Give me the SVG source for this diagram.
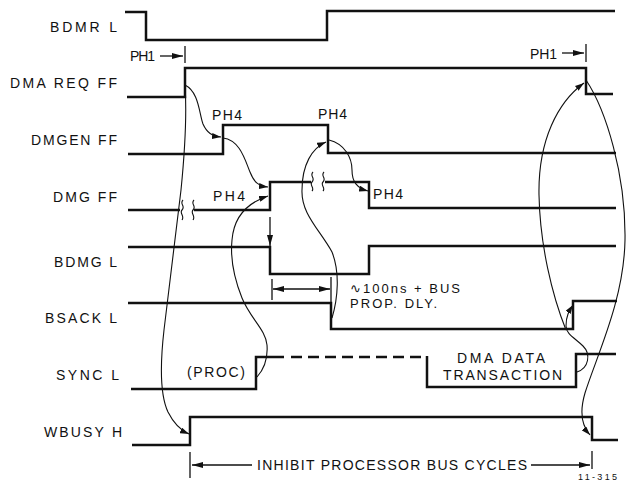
<svg xmlns="http://www.w3.org/2000/svg" width="627" height="491" viewBox="0 0 627 491">
<style>
text{font-family:"Liberation Sans","DejaVu Sans",Arial,sans-serif;fill:#111;}
.lbl{font-size:14px;}
.sm{font-size:13px;}
.tiny{font-size:9px;}
.w{fill:none;stroke:#111;stroke-width:2.5;stroke-linejoin:miter;}
.c{fill:none;stroke:#111;stroke-width:1.1;}
.d{fill:none;stroke:#111;stroke-width:1.3;}
</style>
<defs>
<marker id="a" viewBox="0 0 9 6" refX="9" refY="3" markerWidth="9" markerHeight="6" markerUnits="userSpaceOnUse" orient="auto-start-reverse"><path d="M0,0 L9,3 L0,6 z" fill="#111"/></marker>
<marker id="b" viewBox="0 0 11 6" refX="11" refY="3" markerWidth="11" markerHeight="6" markerUnits="userSpaceOnUse" orient="auto-start-reverse"><path d="M0,0 L11,3 L0,6 z" fill="#111"/></marker>
</defs>
<rect width="627" height="491" fill="#fff"/>

<g id="bdmr">
<text class="lbl" x="50" y="32" textLength="67" lengthAdjust="spacing">BDMR L</text>
<path class="w" d="M125,12 H146 V40 H327 V11 H615"/>
</g>
<g id="dmareq">
<text class="lbl" x="10" y="88" textLength="107" lengthAdjust="spacing">DMA REQ FF</text>
<path class="w" d="M127,97 H185 V68 H586 V94 H613"/>
</g>
<g id="dmgen">
<text class="lbl" x="31" y="145" textLength="86" lengthAdjust="spacing">DMGEN FF</text>
<path class="w" d="M128,154 H223 V125 H328 V153 H616"/>
</g>
<g id="dmg">
<text class="lbl" x="53" y="202" textLength="64" lengthAdjust="spacing">DMG FF</text>
<path class="w" d="M128,210 H180 M194,210 H270 V182 H311 M325,182 H369 V208 H616"/>
<path class="c" d="M183,200 c-4,4 3,6 -1,10 c-3,3 3,6 0,10 M194,200 c-4,4 3,6 -1,10 c-3,3 3,6 0,10 M313,172 c-4,4 3,6 -1,10 c-3,3 3,6 0,9 M324,172 c-4,4 3,6 -1,10 c-3,3 3,6 0,9"/>
</g>
<g id="bdmg">
<text class="lbl" x="54" y="267" textLength="63" lengthAdjust="spacing">BDMG L</text>
<path class="w" d="M128,247 H270 V274 H369 V246 H616"/>
</g>
<g id="bsack">
<text class="lbl" x="45" y="323" textLength="72" lengthAdjust="spacing">BSACK L</text>
<path class="w" d="M128,303 H331 V329 H573 V301 H617"/>
</g>
<g id="sync">
<text class="lbl" x="56" y="380" textLength="63" lengthAdjust="spacing">SYNC L</text>
<path class="w" d="M131,389 H256 V357 H284 M427,356 V387 H576 V354 H616"/>
<path class="w" d="M291,357 H427" stroke-dasharray="11 6"/>
</g>
<g id="wbusy">
<text class="lbl" x="44" y="437" textLength="78" lengthAdjust="spacing">WBUSY H</text>
<path class="w" d="M132,445 H190 V417 H592 V440 H618"/>
</g>

<g id="annotations">
<text class="lbl" x="130" y="61" textLength="25" lengthAdjust="spacing">PH1</text>
<path class="d" d="M160,56 H183" marker-end="url(#b)"/>
<path class="d" d="M185,46 V63"/>
<text class="lbl" x="530" y="59" textLength="27" lengthAdjust="spacing">PH1</text>
<path class="d" d="M562,53 H584" marker-end="url(#b)"/>
<path class="d" d="M586,44 V62"/>
<text class="lbl" x="212" y="120" textLength="30" lengthAdjust="spacing">PH4</text>
<text class="lbl" x="318" y="119" textLength="29" lengthAdjust="spacing">PH4</text>
<text class="lbl" x="213" y="201" textLength="32" lengthAdjust="spacing">PH4</text>
<text class="lbl" x="373" y="199" textLength="30" lengthAdjust="spacing">PH4</text>
<path class="d" d="M270,217 V246" marker-end="url(#b)"/>
<path class="d" d="M272,279 V300 M331,277 V303"/>
<path class="d" d="M273,289 H330" marker-start="url(#b)" marker-end="url(#b)"/>
<text class="sm" x="350" y="293" textLength="110" lengthAdjust="spacing">∿100ns + BUS</text>
<text class="sm" x="350" y="308" textLength="87" lengthAdjust="spacing">PROP. DLY.</text>
<text class="lbl" x="187" y="377" textLength="58" lengthAdjust="spacing">(PROC)</text>
<text class="lbl" x="457" y="363" textLength="88" lengthAdjust="spacing">DMA DATA</text>
<text class="lbl" x="443" y="380" textLength="119" lengthAdjust="spacing">TRANSACTION</text>
<path class="d" d="M190,452 V478 M592,451 V469"/>
<path class="d" d="M192,465 H252" marker-start="url(#b)"/>
<path class="d" d="M531,465 H590" marker-end="url(#b)"/>
<text class="lbl" x="257" y="470" textLength="270" lengthAdjust="spacing">INHIBIT PROCESSOR BUS CYCLES</text>
<text class="tiny" x="578" y="480" textLength="39" lengthAdjust="spacing">11-315</text>
</g>

<g id="connectors">
<path class="c" d="M185,85 C199,92 199,113 203,124 C207,133 212,136 221,137" marker-end="url(#a)"/>
<path class="c" d="M223,138 C240,140 245,160 250,172 C254,182 258,186 268,187" marker-end="url(#a)"/>
<path class="c" d="M185,85 C187,115 185,150 181,190 L164,330 C160,365 160,395 168,412 C174,424 180,430 189,434" marker-end="url(#a)"/>
<path class="c" d="M257,377 C265,368 268,358 267,345 C266,330 250,318 242,298 C234,278 230,260 232,240 C234,215 250,202 268,196" marker-end="url(#a)"/>
<path class="c" d="M332,318 C338,298 340,272 332,252 C320,230 301,214 302,190 C302,165 312,148 326,142" marker-end="url(#a)"/>
<path class="c" d="M329,140 C345,144 352,158 352,170 C352,182 357,188 368,191" marker-end="url(#a)"/>
<path class="c" d="M577,372 C589,368 591,354 583,346 C575,338 566,334 566,326 C566,316 569,311 573,305" marker-end="url(#a)"/>
<path class="c" d="M566,330 C552,295 540,245 539,195 C538,140 558,102 584,83" marker-end="url(#a)"/>
<path class="c" d="M586,80 C606,110 626,175 625,240 C624,300 597,355 585,393 C580,410 581,425 590,435" marker-end="url(#a)"/>
</g>
</svg>
